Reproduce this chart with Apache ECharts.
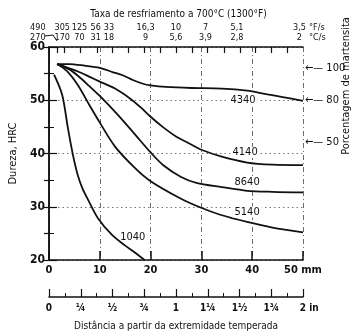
<!DOCTYPE html>
<html><head><meta charset="utf-8">
<script src="https://cdn.jsdelivr.net/npm/echarts@6/dist/echarts.min.js"></script>
<style>html,body{margin:0;padding:0;background:#fff}#c{width:357px;height:336px}</style>
</head><body><div id="c"></div>
<script>
// ---- data (distance from quenched end in mm, hardness HRC) ----
const dist4340 = [1.6, 4, 7, 10, 12.5, 14.5, 16.5, 18.5, 20, 23, 28, 34, 39, 43, 46, 50];
const hrc4340  = [56.8, 56.8, 56.5, 56.1, 55.3, 54.7, 53.8, 53.1, 52.8, 52.5, 52.3, 52.2, 51.8, 51.1, 50.6, 49.9];
const dist4140 = [1.6, 4, 5.7, 8, 10, 13, 16, 18, 20, 22.5, 25, 28, 30, 34, 39, 44, 50];
const hrc4140  = [56.8, 56.0, 55.4, 54.4, 53.5, 52.2, 50.3, 48.7, 46.9, 44.9, 43.2, 41.7, 40.7, 39.4, 38.3, 37.9, 37.8];
const dist8640 = [1.6, 4, 5.7, 8, 10, 13.6, 17, 20, 22.5, 26, 29, 34, 39, 44, 50];
const hrc8640  = [56.8, 55.8, 54.6, 52.6, 50.8, 47.2, 43.5, 40.2, 37.8, 35.6, 34.5, 33.7, 33.0, 32.8, 32.7];
const dist5140 = [1.6, 3.5, 5.7, 8, 10, 13, 16.9, 20, 25.8, 29.7, 33.7, 39.2, 44, 50];
const hrc5140  = [56.8, 55.5, 52.8, 49.0, 45.8, 41.3, 37.3, 34.8, 31.6, 29.9, 28.5, 27.1, 26.1, 25.2];
const dist1040 = [1.0, 2.6, 3.7, 4.7, 5.7, 6.6, 7.7, 9.6, 12.4, 15, 16.9, 18.8];
const hrc1040  = [54.8, 51.0, 44.9, 39.8, 35.8, 33.4, 31.3, 27.9, 24.7, 22.7, 21.4, 20.0];

const steelNames = ['4340', '4140', '8640', '5140', '1040'];
const labelMm  = [38.2, 38.6, 39.0, 39.0, 16.5];
const labelHrc = [50.1, 40.2, 34.6, 29.0, 24.2];

// cooling-rate scale (top), positions in mm
const rateMm  = [-2.2, 2.6, 6.0, 9.2, 11.8, 19.0, 25.0, 30.8, 37.0, 49.3];
const rateF   = ['490', '305', '125', '56', '33', '16,3', '10', '7', '5,1', '3,5'];
const rateC   = ['270', '170', '70', '31', '18', '9', '5,6', '3,9', '2,8', '2'];
const rateTickMm = [1.6, 2.95, 6.1, 9.45, 12.4, 15.55, 18.7, 21.85, 25, 28.15, 31.1, 34.45, 37.6, 40.55, 43.7, 46.85];

// martensite scale (right)
const martHrc  = [56.1, 50.0, 42.2];
const martPct  = ['100', '80', '50'];

// inch scale (bottom)
const inchLabels = ['0', '¼', '½', '¾', '1', '1¼', '1½', '1¾', '    2 in'];

const FONT = '"DejaVu Sans Condensed", "Liberation Sans", sans-serif';
const zip = (a, b) => a.map((v, i) => [v, b[i]]);
const dists = [dist4340, dist4140, dist8640, dist5140, dist1040];
const hrcs  = [hrc4340, hrc4140, hrc8640, hrc5140, hrc1040];

const chart = echarts.init(document.getElementById('c'), null, {renderer: 'canvas'});
const axisCol = '#111';
const option = {
  animation: false,
  backgroundColor: '#fff',
  textStyle: {fontFamily: FONT, color: '#111'},
  title: {
    text: 'Taxa de resfriamento a 700°C (1300°F)',
    left: 'center', top: 4,
    textStyle: {fontFamily: FONT, fontSize: 10, fontWeight: 'normal', color: '#111'}
  },
  grid: [
    {left: 49, right: 54, top: 47, bottom: 75},
    {left: 49 - 4 * 5.08, right: 54, top: 47, bottom: 75}
  ],
  xAxis: [
    { // mm axis (bottom)
      type: 'value', gridIndex: 0, position: 'bottom', min: 0, max: 50, interval: 10,
      axisLine: {show: true, lineStyle: {color: axisCol, width: 1.5}},
      axisTick: {show: true, inside: true, length: 9, lineStyle: {color: axisCol, width: 1.5}},
      axisLabel: {margin: 5, fontSize: 11, fontWeight: 'bold', color: '#111', fontFamily: FONT,
        formatter: v => v === 50 ? '50 mm' : String(v)},
      splitLine: {show: true, lineStyle: {color: '#444', type: [5, 3, 1, 3], width: 0.8}}
    },
    { // top frame line
      type: 'value', gridIndex: 0, position: 'top', min: 0, max: 50,
      axisLine: {show: true, lineStyle: {color: axisCol, width: 1.5}},
      axisTick: {show: false}, axisLabel: {show: false}, splitLine: {show: false}
    },
    { // cooling rate axis (top, extended grid)
      type: 'value', gridIndex: 1, position: 'top', min: -4, max: 50,
      axisLine: {show: false},
      axisTick: {show: true, inside: true, length: 6, customValues: rateTickMm,
        lineStyle: {color: axisCol, width: 1.2}},
      axisLabel: {show: true, margin: 4, fontSize: 9, color: '#111', fontFamily: FONT, lineHeight: 10,
        customValues: rateMm, hideOverlap: false,
        formatter: v => { const i = rateMm.indexOf(v); return i < 0 ? '' : rateF[i] + '\n' + rateC[i]; }},
      splitLine: {show: false}
    },
    { // inch axis (below)
      type: 'value', gridIndex: 0, position: 'bottom', offset: 37, min: 0, max: 2, interval: 0.25,
      axisLine: {show: true, lineStyle: {color: axisCol, width: 1.5}},
      axisTick: {show: true, inside: true, length: 8, lineStyle: {color: axisCol, width: 1.2}},
      minorTick: {show: true, splitNumber: 2, length: 4, lineStyle: {color: axisCol, width: 1}},
      axisLabel: {margin: 6, fontSize: 10, fontWeight: 'bold', color: '#111', fontFamily: FONT,
        formatter: v => inchLabels[Math.round(v * 4)] || ''},
      splitLine: {show: false},
      name: 'Distância a partir da extremidade temperada',
      nameLocation: 'middle', nameGap: 24,
      nameTextStyle: {fontSize: 10, color: '#111', fontFamily: FONT}
    }
  ],
  yAxis: [
    { // HRC left
      type: 'value', gridIndex: 0, position: 'left', min: 20, max: 60, interval: 10,
      axisLine: {show: true, lineStyle: {color: axisCol, width: 1.5}},
      axisTick: {show: true, inside: true, length: 8, lineStyle: {color: axisCol, width: 1.2}},
      minorTick: {show: true, splitNumber: 2, length: 5, lineStyle: {color: axisCol, width: 1}},
      axisLabel: {margin: 4, fontSize: 12, fontWeight: 'bold', color: '#111', fontFamily: FONT},
      splitLine: {show: true, lineStyle: {color: '#777', type: [1.5, 3], width: 1}},
      name: 'Dureza, HRC', nameLocation: 'middle', nameGap: 27,
      nameTextStyle: {fontSize: 11, color: '#111', fontFamily: FONT}
    },
    { // right, martensite
      type: 'value', gridIndex: 0, position: 'right', min: 20, max: 60, interval: 5,
      axisLine: {show: true, lineStyle: {color: axisCol, width: 1.5}},
      axisTick: {show: true, inside: true, length: 5, lineStyle: {color: axisCol, width: 1.2}},
      axisLabel: {show: true, margin: 2, fontSize: 11, color: '#111', fontFamily: FONT,
        customValues: martHrc,
        formatter: v => { const i = martHrc.indexOf(v); return i < 0 ? '' : '\u2190\u2014 ' + martPct[i]; }},
      splitLine: {show: false}
    },
    {type: 'value', gridIndex: 1, min: 20, max: 60, show: false}
  ],
  graphic: [
    {type: 'text', x: 309, y: 28, style: {text: '°F/s', font: '9px ' + FONT, fill: '#111', textVerticalAlign: 'middle'}},
    {type: 'text', x: 309, y: 38, style: {text: '°C/s', font: '9px ' + FONT, fill: '#111', textVerticalAlign: 'middle'}},
    {type: 'polyline', shape: {points: [[45, 36], [53, 35], [57, 41]]}, style: {stroke: '#111', lineWidth: 1, fill: null}},
    {type: 'text', x: 346, y: 86, rotation: Math.PI / 2,
      style: {text: 'Porcentagem de martensita', font: '11px ' + FONT, fill: '#111', textAlign: 'center', textVerticalAlign: 'middle'}}
  ],
  series: steelNames.map((n, i) => ({
    type: 'line', name: n, xAxisIndex: 0, yAxisIndex: 0,
    data: zip(dists[i], hrcs[i]),
    smooth: 0.3, showSymbol: false, symbol: 'none',
    lineStyle: {color: '#111', width: 1.8},
    markPoint: {
      symbol: 'circle', symbolSize: 0, silent: true,
      label: {show: true, position: 'inside', formatter: '{b}', fontSize: 11, color: '#111',
        fontFamily: FONT, backgroundColor: i < 4 ? '#fff' : 'transparent', padding: [0, 2]},
      data: [{name: n, coord: [labelMm[i], labelHrc[i]]}]
    }
  }))
};
chart.setOption(option);
</script>
</body></html>
